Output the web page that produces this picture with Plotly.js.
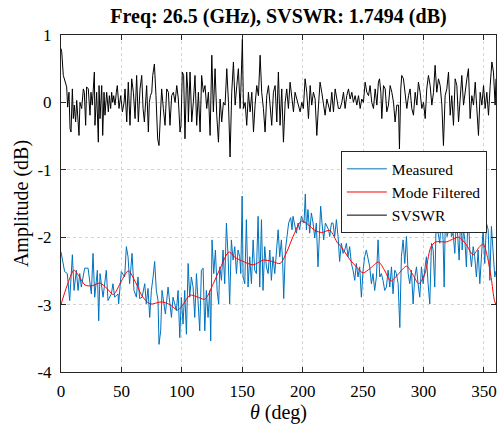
<!DOCTYPE html>
<html>
<head>
<meta charset="utf-8">
<script src="https://cdn.plot.ly/plotly-3.0.1.min.js"></script>
<style>html,body{margin:0;padding:0;background:#fff;}#chart{width:500px;height:425px;}</style>
</head>
<body>
<div id="chart"></div>
<script>
// Measured (blue) samples: angle (deg) and amplitude (dB)
const measTheta = [0,3,5.2,7.2,9.4,10.8,12.7,14.1,15.5,16.8,19.6,22.4,25.1,26.5,27.9,30.1,31.2,32.3,34.8,37.5,38.9,41.7,43,44.4,47.2,47.7,49.9,52.7,54.1,55.5,56.8,58.8,60.4,62.4,63.7,65.1,67.1,69.3,70.6,72,73.4,74.8,76.2,77.5,78.9,80.3,81.1,82.5,83.6,85.3,86.4,88.6,
90,91.4,92.7,94.1,95.5,96.9,98.3,99.6,101,102.4,103.8,105.2,106.5,107.9,109.3,110.7,112.1,113.4,114.8,116.2,117.6,119,120.3,121.7,123.1,123.9,125,126.4,127.8,129.2,130.5,131.4,132.8,134.1,135.5,136.9,138.3,139.6,141,142.4,143.8,145.2,146.5,147.9,148.8,149.9,150.7,152.1,153.4,154.8,156.2,157.6,159,160.3,161.7,163.1,164.5,165.9,167.2,168.6,170,171.4,172.8,174.1,175.5,176.9,178.3,179.7,
181,182.4,183.5,184.3,185.7,187.3,188.4,190.1,191.2,192,193.4,194.8,196.2,197.5,198.9,200.3,201.1,202.2,203.1,204.4,205.8,207.2,208.6,210,211.3,212.7,214.1,214.9,216,217.4,218.8,220.2,221.5,222.4,223.8,225.1,226.5,227.9,229.3,230.6,232,233.4,234.8,236.2,237.5,238.9,240.3,241.7,243.1,244.4,245.8,247.2,248.6,250,251.3,252.7,254.1,255.5,256.9,258.2,259.6,261,262.4,263.8,265.1,266.5,267.9,269.3,270.7,
272.1,273.5,274.8,276.2,277.6,279,280.4,281.7,283.1,284.5,285.9,287.3,288.6,290,291.4,292.8,294.2,295.5,296.9,298.3,299.7,301,302.4,303.8,305.2,306.6,308,309.3,310.7,312.1,313.5,314.9,316.2,317.1,318.2,319.5,320.9,322,323.1,324.5,325.9,327.3,328.6,329.5,330.9,332,333.1,334.2,335.5,337,338.3,339.7,341.1,342.4,343.8,345.2,346.6,348,349.3,350.7,352.1,353.5,354.9,356.2,357.6,359,360];
const measVal = [-2.22,-2.51,-2.54,-2.94,-2.26,-2.79,-2.49,-2.79,-2.54,-2.74,-2.46,-2.46,-2.84,-2.24,-2.89,-2.49,-3.24,-2.54,-2.89,-2.49,-2.94,-2.84,-2.69,-2.89,-2.84,-2.99,-2.51,-2.59,-2.14,-2.29,-2.69,-2.24,-2.79,-2.89,-2.59,-2.91,-2.89,-2.69,-2.99,-2.76,-3.19,-2.79,-2.59,-2.36,-2.79,-2.94,-3.59,-3.39,-2.79,-2.99,-3.14,-2.74,
-2.94,-3.19,-2.89,-2.99,-3.09,-2.79,-3.49,-2.89,-3.29,-2.79,-3.44,-2.39,-2.89,-2.59,-2.74,-3.19,-2.54,-2.94,-3.39,-2.49,-2.46,-3.39,-2.79,-3.19,-2.79,-3.54,-2.04,-2.54,-2.19,-2.79,-2.99,-2.44,-2.64,-2.19,-2.69,-1.79,-2.29,-2.99,-2.04,-2.34,-2.14,-2.54,-2.19,-2.29,-2.54,-1.39,-2.59,-2.69,-1.74,-2.74,-2.29,-2.69,-2.04,-2.49,-2.54,-1.69,-2.74,-1.74,-2.79,-2.14,-2.44,-2.54,-2.19,-2.64,-2.29,-2.54,-2.19,-1.89,
-2.29,-2.04,-2.39,-2.91,-2.19,-1.94,-1.79,-1.71,-1.89,-1.69,-1.84,-1.94,-1.79,-1.89,-1.69,-1.74,-1.79,-1.36,-1.89,-1.59,-1.94,-1.64,-1.79,-2.01,-1.79,-2.44,-1.74,-1.54,-1.79,-2.04,-1.79,-1.84,-1.89,-1.99,-1.79,-1.79,-1.99,-1.74,-1.99,-2.36,-2.09,-2.24,-2.19,-2.09,-2.29,-2.14,-2.39,-2.49,-2.64,-2.39,-2.59,-2.44,-2.89,-2.49,-2.29,-2.19,-2.34,-2.44,-2.69,-2.54,-2.79,-2.59,-2.04,-2.59,-2.54,-2.64,-2.79,-2.74,-2.49,
-2.74,-2.44,-2.84,-2.49,-2.54,-2.69,-3.34,-2.29,-2.04,-2.39,-1.99,-2.54,-2.69,-2.49,-2.99,-2.59,-2.44,-2.69,-2.89,-2.44,-2.69,-2.49,-2.29,-2.69,-2.99,-2.09,-2.19,-2.74,-1.59,-1.94,-2.09,-1.64,-2.04,-2.74,-1.59,-1.99,-1.89,-1.54,-1.99,-1.94,-2.24,-1.69,-1.99,-2.34,-1.59,-2.19,-1.89,-2.04,-2.44,-1.59,-2.19,-2.44,-2.14,-2.29,-2.59,-2.19,-2.69,-2.29,-1.89,-2.39,-1.79,-1.89,-2.64,-1.84,-2.29,-2.59,-2.5];

// Mode filtered (red) samples
const filtTheta = [0,5,10.8,15,19.9,26,32,38,43.3,50,55.7,62,67,73.7,83.3,90,96.6,101,106.8,112,119,126,132,139,144,149.6,159,167.5,175,181.3,186.8,193,199,205,210,215.8,222.5,229,231,239,245,250,256,262.8,268,273,279,286,291,296,301,306,310,319,324,329,335,341,346,349.5,353,356,358.7,360];
const filtVal = [-3.0,-2.72,-2.49,-2.58,-2.71,-2.72,-2.68,-2.76,-2.85,-2.65,-2.50,-2.68,-2.87,-2.99,-2.96,-3.0,-3.08,-3.0,-2.86,-2.88,-2.92,-2.69,-2.45,-2.22,-2.30,-2.35,-2.41,-2.34,-2.36,-2.39,-2.22,-1.95,-1.76,-1.82,-1.90,-1.93,-1.90,-2.09,-2.12,-2.33,-2.45,-2.53,-2.46,-2.37,-2.50,-2.65,-2.55,-2.43,-2.55,-2.69,-2.55,-2.15,-2.07,-2.07,-2.03,-2.0,-2.10,-2.26,-2.15,-2.10,-2.30,-2.60,-2.94,-3.0];

// SVSWR (black) samples
const svTheta = [0,0.6,1.9,3.3,4.7,5.5,6.6,7.5,8.3,9.4,10.2,11,12.1,13,13.8,14.9,15.7,17.1,18.5,19.3,20.4,21.2,22.6,24,24.8,25.9,27.6,28.1,29.5,30.9,31.5,32.3,33.7,34.5,35.6,36.4,37.8,39.2,40,41.1,41.9,42.8,43.6,44.7,45.8,46.6,48,49.4,50.8,52.2,53,54.4,55.7,57.1,58.5,59.9,61.3,62.6,64,65.4,66.8,67.9,69,70.1,70.9,72.3,73.1,74,75.1,75.9,77.3,78.6,80,81.1,82.5,83.3,84.7,86.1,87.5,88.9,90.2,91.6,93,94.4,95.8,97.1,98.5,99.3,100.4,101.5,102.6,104,104.9,105.4,106.8,108.2,109.5,110.9,112.3,113.7,115.1,116.4,117.8,
119.2,120.6,122,123.4,124.8,126.1,127.5,128.9,130.3,131.7,133,134.4,135.8,137.2,138.6,139.9,141.3,142.7,144.1,145.5,146.8,148.2,148.8,150.1,151,152.4,153.7,155.1,156.5,157.9,159.3,160.6,162,163.4,164.8,166.1,167.5,168.9,170.3,171.7,173,174.4,175.8,177.2,178.6,179.9,181.3,182.7,184.1,185.5,186.8,188.2,189.6,191,192.4,193.7,195.1,196.5,197.9,199.3,200.6,202,203.4,204.8,206.2,207.5,208.9,210.3,211.7,213.1,214.4,215.8,217.2,218.6,220,221.3,222.7,224.1,225.5,226.9,228.2,229.6,
231,232.4,233.8,235.1,236.5,237.9,239.3,240.7,242,243.4,244.8,246.2,247.6,248.9,250.3,251.7,253.1,254.5,255.8,257.2,258.6,260,261.4,262.7,263.6,264.7,265.5,266.9,268.3,269.6,271,272.4,273.8,275.2,276.5,277.9,279.3,280.1,281.2,282,283.4,284.8,286.2,287.6,288.9,290.3,291.7,293.1,294.5,295.8,297.2,298.6,300,301.4,302.7,304.1,305.5,306.9,308.3,309.6,311,312.4,313.8,315.2,316.5,317.9,319.3,320.7,322.1,323.4,324.8,326.2,327.6,329,330.3,331.7,333.1,334.5,335.9,337.2,338.6,340,341.4,342.8,344.1,345.5,346.9,348.3,349.7,351,352.4,353.8,355.2,356.6,357.9,359.3,360];
const svVal = [0.80,0.75,0.40,0.30,0.23,-0.07,0.15,-0.39,-0.44,0.20,-0.24,-0.04,-0.29,0.03,-0.14,-0.49,0.00,-0.09,0.20,0.15,-0.34,0.23,0.20,-0.19,0.15,-0.04,0.45,-0.34,0.15,-0.59,0.25,-0.24,0.25,-0.49,0.15,-0.19,0.15,-0.14,0.10,-0.09,0.15,0.00,0.10,-0.04,0.15,0.25,-0.09,0.10,-0.14,0.00,0.20,-0.29,0.30,-0.34,0.35,0.15,-0.24,0.40,-0.29,0.20,0.40,-0.09,-0.29,0.10,0.25,-0.44,0.00,0.10,0.15,0.40,0.57,0.10,-0.54,-0.64,-0.09,0.20,-0.09,-0.34,0.20,0.15,-0.34,0.10,0.15,0.00,0.25,0.05,-0.44,-0.34,0.45,0.40,-0.54,0.45,0.20,-0.29,0.45,-0.29,0.00,0.40,-0.34,0.15,-0.44,0.40,0.15,
0.25,-0.09,0.15,-0.49,0.70,-0.14,0.50,-0.19,-0.59,0.05,-0.29,0.00,-0.04,0.50,0.00,-0.81,0.15,0.60,-0.04,0.25,0.50,-0.09,0.15,0.94,-0.09,0.00,-0.34,0.15,-0.14,0.15,-0.44,-0.04,0.25,0.10,0.70,0.15,-0.09,-0.44,0.10,0.25,-0.09,-0.34,0.15,0.25,-0.29,0.45,-0.34,0.20,-0.59,0.00,0.20,-0.09,0.30,0.10,-0.14,0.15,0.05,-0.04,-0.14,0.00,-0.09,0.35,0.15,-0.24,0.25,-0.04,0.15,0.05,-0.49,-0.04,0.30,0.15,0.00,-0.19,0.05,-0.04,-0.14,0.15,-0.14,0.20,0.05,-0.09,
-0.09,0.00,0.15,-0.09,0.10,0.20,0.05,0.15,0.00,0.10,-0.04,0.10,-0.09,0.05,0.00,0.30,0.15,0.10,0.25,0.00,-0.09,0.20,-0.04,0.30,0.35,0.15,-0.24,0.25,0.20,-0.14,-0.04,0.25,0.15,0.00,-0.29,-0.04,-0.04,-0.69,0.20,0.40,0.35,0.15,-0.09,0.10,0.20,-0.09,-0.19,0.15,-0.04,0.30,0.15,-0.09,0.00,-0.24,0.20,0.40,0.25,-0.04,0.15,0.55,0.15,0.35,0.25,-0.04,-0.64,0.10,0.20,0.45,-0.19,0.10,-0.34,0.35,0.25,-0.29,0.05,0.40,-0.04,0.20,0.35,0.50,-0.24,0.10,-0.04,0.30,-0.19,-0.49,0.15,-0.04,0.25,-0.09,0.15,-0.19,0.25,0.60,0.45,-0.04,0.35];

const xTicks = [0,50,100,150,200,250,300,350];
const yTicks = [-4,-3,-2,-1,0,1];
const yTickText = ["-4","-3","-2","-1","0","1"];

const FONT = "Liberation Serif";

const traces = [
  {x: measTheta, y: measVal, type: 'scatter', mode: 'lines', name: 'Measured',
   line: {color: '#0072BD', width: 1}},
  {x: filtTheta, y: filtVal, type: 'scatter', mode: 'lines', name: 'Mode Filtered',
   line: {color: '#FF0000', width: 1, shape: 'spline', smoothing: 0.8}},
  {x: svTheta, y: svVal, type: 'scatter', mode: 'lines', name: 'SVSWR',
   line: {color: '#000000', width: 1}}
];

const axisCommon = {
  showline: true, linecolor: '#262626', linewidth: 1, mirror: 'ticks',
  ticks: 'inside', ticklen: 5, tickcolor: '#262626',
  showgrid: true, gridcolor: '#d4d4d4', griddash: 'dot', gridwidth: 1,
  zeroline: false, tickfont: {family: FONT, size: 17, color: '#000'}
};

const layout = {
  width: 500, height: 425,
  margin: {l: 61, r: 4, t: 35, b: 53},
  paper_bgcolor: '#fff', plot_bgcolor: '#fff',
  font: {family: FONT, color: '#000'},
  title: {text: '<b>Freq: 26.5 (GHz), SVSWR: 1.7494 (dB)</b>', font: {family: FONT, size: 20, color: '#000'},
          xref: 'paper', x: 0.5, xanchor: 'center', y: 0.963, yanchor: 'middle'},
  xaxis: Object.assign({}, axisCommon, {range: [0, 360], tickvals: xTicks, ticklabelstandoff: 4,
          title: {text: '<i>θ</i> (deg)', font: {family: FONT, size: 20}, standoff: 2}}),
  yaxis: Object.assign({}, axisCommon, {range: [-4, 1], tickvals: yTicks, ticktext: yTickText, ticklabelstandoff: 5,
          title: {text: 'Amplitude (dB)', font: {family: FONT, size: 20}, standoff: 3}}),
  showlegend: true,
  legend: {x: 0.979, xanchor: 'right', y: 0.655, yanchor: 'top',
           bgcolor: '#fff', bordercolor: '#262626', borderwidth: 1,
           font: {family: FONT, size: 15.5, color: '#000'}, itemwidth: 40,
           tracegroupgap: 0}
};

Plotly.newPlot('chart', traces, layout, {staticPlot: true, displayModeBar: false});
</script>
</body>
</html>
